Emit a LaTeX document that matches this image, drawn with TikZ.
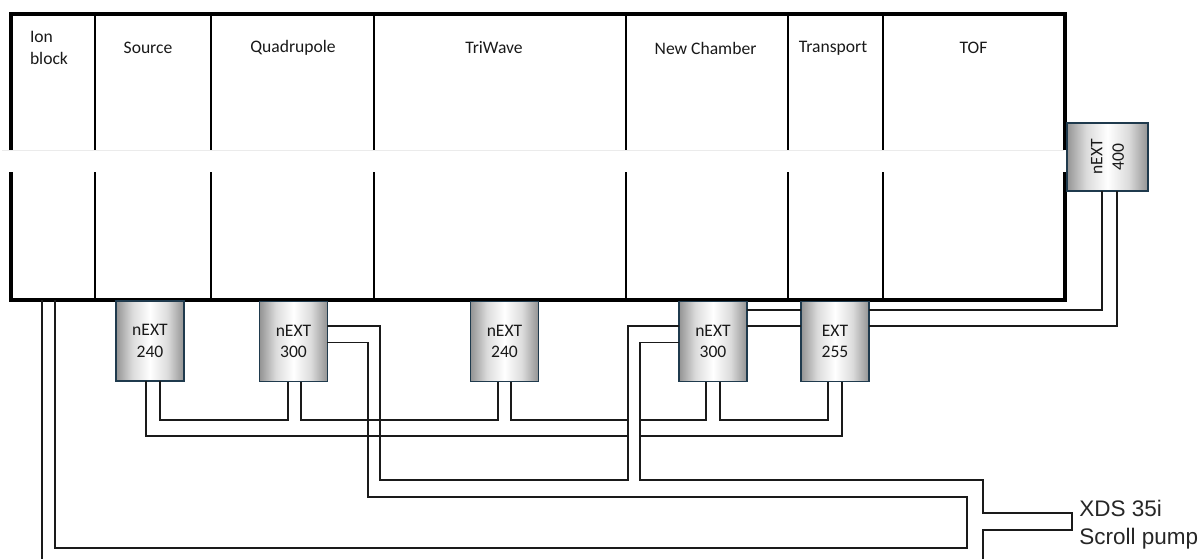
\documentclass[tikz,border=0pt]{standalone}
\usepackage{fontspec}
\setmainfont{Carlito}
\newfontfamily\pumpfont{Liberation Sans}
\usetikzlibrary{calc}
\definecolor{cedge}{HTML}{1F3A4D}
\definecolor{cpipe}{HTML}{1A1A1A}
\pgfdeclarehorizontalshading{pumpshade}{100bp}{
    rgb(0bp)=(0.58,0.58,0.58); rgb(25bp)=(0.58,0.58,0.58); rgb(37bp)=(0.86,0.86,0.86);
    rgb(50bp)=(1,1,1);
    rgb(63bp)=(0.86,0.86,0.86); rgb(75bp)=(0.58,0.58,0.58); rgb(100bp)=(0.58,0.58,0.58)}

\begin{document}
\begin{tikzpicture}[
    x=0.025cm, y=-0.025cm,
    wall/.style={draw=black, line width=2.4pt, minimum width=26.35cm, minimum height=7.14cm, inner sep=0pt, outer sep=0pt},
    divider/.style={black, line width=1.4pt},
    seclbl/.style={font=\fontsize{12.5}{15.3}\selectfont, align=left, text=black!90},
    pump/.style={draw=cedge, line width=1.1pt, shading=pumpshade,
        minimum width=1.69cm, minimum height=2cm, inner sep=0pt, outer sep=0pt, align=center,
        font=\fontsize{12.5}{15.3}\selectfont, text=black!90},
    pipe/.style={cpipe, line width=1.1pt, line join=miter},
]
\useasboundingbox (0,0) rectangle (1201,559);

% Vacuum housing
\node[wall] (housing) at (538,157) {};
\foreach \x in {95,211,374,626,788,883} {
    \draw[divider] (\x,14) -- (\x,299);
}

% Break across the housing
\fill[white] (0,150) rectangle (1066,172);
\draw[black!8, very thin] (2,150) -- (1064,150);

% Section labels
\foreach \name/\x/\txt in {ion/49/{Ion\\block}, source/148/Source, quad/293/Quadrupole, tri/494/TriWave,
        chamber/705.5/New Chamber, transport/833/Transport, tof/973.5/TOF} {
    \node[seclbl] (\name) at (\x,48) {\txt};
}

% Turbo pumps
\node[pump] (pa) at (150,341) {nEXT\\240};
\node[pump] (pb) at (293.5,341.5) {nEXT\\300};
\node[pump] (pc) at (504.5,341.5) {nEXT\\240};
\node[pump] (pd) at (713,341.5) {nEXT\\300};
\node[pump] (pe) at (835,341.5) {EXT\\255};
\node[pump, rotate=90, minimum width=1.7cm, minimum height=2.03cm] (pf) at (1107.5,157) {nEXT\\400};

% Backing ports under the pumps
\foreach \name/\a/\b in {pa/-4/10, pb/-5.5/7.5, pc/-6.5/6.5, pd/-7/7, pe/-7/7} {
    \coordinate (\name-l) at ($(\name.south)+(\a,0)$);
    \coordinate (\name-r) at ($(\name.south)+(\b,0)$);
}
\coordinate (pf-l) at ($(pf.west)+(-5.5,0)$);
\coordinate (pf-r) at ($(pf.west)+(9.5,0)$);

% Side ports
\foreach \name in {pb,pd,pe} {
    \coordinate (\name-e1) at ($(\name.north east)+(0,8.5)$);
    \coordinate (\name-e2) at ($(\name.north east)+(0,24.5)$);
    \coordinate (\name-w1) at ($(\name.north west)+(0,8.5)$);
    \coordinate (\name-w2) at ($(\name.north west)+(0,24.5)$);
    \coordinate (\name-w3) at ($(\name.north west)+(0,41)$);
    \coordinate (\name-e3) at ($(\name.north east)+(0,41)$);
}

% Housing outlets and free ends
\coordinate (ion-a) at (housing.south -| 42,0);
\coordinate (ion-b) at (housing.south -| 55,0);
\coordinate (ion-end) at (42,559);
\coordinate (scroll-end) at (983,559);

% Foreline between the pumps
\draw[pipe] (pa-r) |- (288,420) -- (pb-l);
\draw[pipe] (pa-l) |- (628,436);
\draw[pipe] (640,436) -| (pe-r);
\draw[pipe] (pb-r) |- (498,420) -- (pc-l);
\draw[pipe] (pc-r) |- (628,420);
\draw[pipe] (640,420) -| (pd-l);
\draw[pipe] (pd-r) |- (828,420) -- (pe-l);

% Lines to the scroll pump
\draw[pipe] (pb-e2) -| (380,480) -| (628,326) -- (pd-w2);
\draw[pipe] (pd-w3) -| (640,480) -| (983,513) -| (1072,530) -| (scroll-end);
\draw[pipe] (ion-b) |- (967,548) |- (368,497) |- (pb-e3);
\draw[pipe] (ion-a) -- (ion-end);

% Links across to the top pump
\draw[pipe] (pd-e1) -- (pe-w1);
\draw[pipe] (pd-e2) -- (pe-w2);
\draw[pipe] (pe-e1) -| (pf-l);
\draw[pipe] (pe-e2) -| (pf-r);

% Scroll pump label
\node[font=\pumpfont\fontsize{16}{20}\selectfont, align=left, anchor=west, inner sep=0pt, text=black!85] (scroll) at (1079,524.5) {XDS 35i\\Scroll pump};

\end{tikzpicture}
\end{document}
